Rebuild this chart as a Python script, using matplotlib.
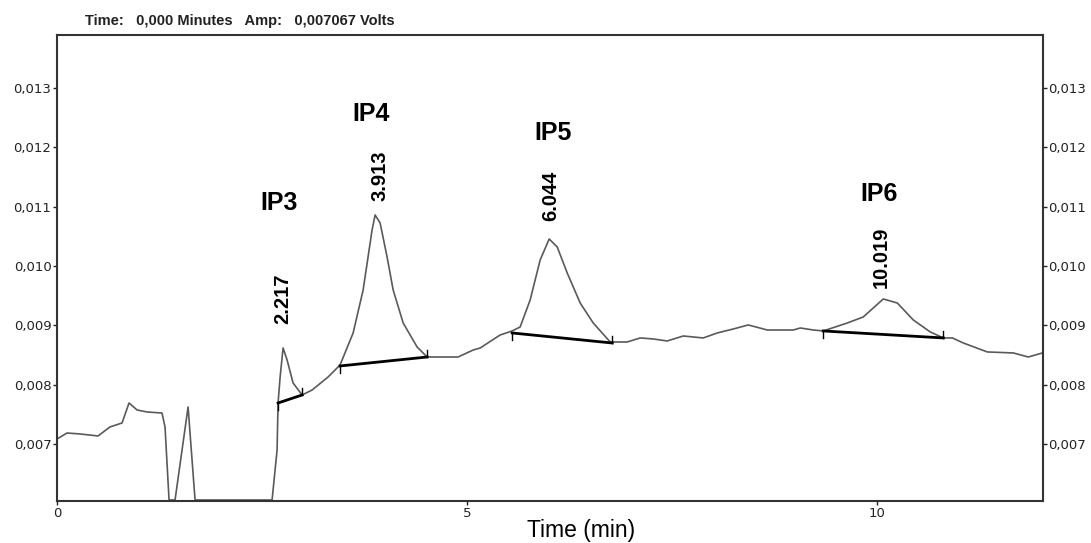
"""Chromatogram trace with integrated peaks IP3-IP6 (baseline segments + retention times)."""
import matplotlib
matplotlib.use("Agg")
import matplotlib.pyplot as plt
from matplotlib.ticker import FuncFormatter

# detector trace, time in min, amplitude in volts
time_min = [
    0.000, 0.122, 0.280, 0.500, 0.646, 0.793, 0.878, 0.976, 1.098, 1.280,
    1.317, 1.366, 1.439, 1.598, 1.683, 2.622, 2.683, 2.695, 2.720, 2.756,
    2.805, 2.878, 2.988, 3.110, 3.305, 3.451, 3.610, 3.732, 3.841, 3.878,
    3.939, 4.024, 4.098, 4.220, 4.390, 4.512, 4.890, 5.073, 5.159, 5.402,
    5.549, 5.646, 5.768, 5.890, 6.000, 6.098, 6.220, 6.378, 6.537, 6.744,
    6.951, 7.110, 7.268, 7.439, 7.634, 7.878, 8.049, 8.244, 8.427, 8.659,
    8.976, 9.061, 9.220, 9.341, 9.634, 9.829, 10.073, 10.244, 10.439, 10.646,
    10.805, 10.915, 11.049, 11.341, 11.659, 11.841, 12.012,
]
amp_v = [
    0.007084, 0.007185, 0.007169, 0.007135, 0.007287, 0.007354, 0.007691, 0.007573, 0.007539, 0.007522,
    0.007287, 0.006056, 0.006056, 0.007624, 0.006056, 0.006056, 0.006900, 0.007691, 0.008129, 0.008618,
    0.008416, 0.008028, 0.007826, 0.007910, 0.008129, 0.008332, 0.008871, 0.009596, 0.010607, 0.010860,
    0.010725, 0.010152, 0.009596, 0.009039, 0.008635, 0.008466, 0.008466, 0.008584, 0.008618, 0.008837,
    0.008905, 0.008972, 0.009427, 0.010101, 0.010455, 0.010320, 0.009882, 0.009376, 0.009039, 0.008719,
    0.008719, 0.008787, 0.008770, 0.008736, 0.008820, 0.008787, 0.008871, 0.008938, 0.009006, 0.008921,
    0.008921, 0.008955, 0.008921, 0.008905, 0.009039, 0.009141, 0.009444, 0.009376, 0.009090, 0.008888,
    0.008787, 0.008787, 0.008702, 0.008551, 0.008534, 0.008466, 0.008534,
]

# integrated peaks
peak_names = ["IP3", "IP4", "IP5", "IP6"]
peak_rt_labels = ["2.217", "3.913", "6.044", "10.019"]
peak_apex_t = [2.756, 3.878, 6.000, 10.073]
peak_apex_v = [0.008618, 0.010860, 0.010455, 0.009444]
base_t0 = [2.695, 3.451, 5.549, 9.341]
base_v0 = [0.007691, 0.008315, 0.008871, 0.008905]
base_t1 = [2.988, 4.512, 6.768, 10.805]
base_v1 = [0.007826, 0.008466, 0.008702, 0.008787]

header = "Time:   0,000 Minutes   Amp:   0,007067 Volts"


def main():
    fig = plt.figure(figsize=(10.91, 5.43), dpi=100)
    ax = fig.add_axes([57 / 1091, 1 - 501 / 543, 986 / 1091, 466 / 543])

    ax.plot(time_min, amp_v, color="#5a5a5a", lw=1.2, zorder=2)

    tick_h = 0.00012
    for t0, v0, t1, v1 in zip(base_t0, base_v0, base_t1, base_v1):
        ax.plot([t0, t1], [v0, v1], color="black", lw=2.0, zorder=3)
        ax.plot([t0, t0], [v0, v0 - tick_h], color="black", lw=1.0, zorder=3)
        ax.plot([t1, t1], [v1, v1 + tick_h], color="black", lw=1.0, zorder=3)

    # labels placed relative to each apex (offsets in pixels)
    name_off = [(-4, 145), (-4, 101), (4, 106), (-4, 105)]
    rt_off = [(0, 49), (5, 39), (2, 43), (-2, 42)]
    for i, name in enumerate(peak_names):
        xy = (peak_apex_t[i], peak_apex_v[i])
        ax.annotate(name, xy, xytext=name_off[i], textcoords="offset pixels",
                    ha="center", va="center", fontsize=18, fontweight="bold",
                    family="Liberation Sans")
        ax.annotate(peak_rt_labels[i], xy, xytext=rt_off[i], textcoords="offset pixels",
                    ha="center", va="center", rotation=90, fontsize=14.5,
                    fontweight="bold", family="Liberation Sans")

    ax.set_xlim(0, 12.02)
    ax.set_ylim(0.006039, 0.013893)
    ax.set_xticks([0, 5, 10])
    ax.set_yticks([0.007, 0.008, 0.009, 0.010, 0.011, 0.012, 0.013])
    ax.yaxis.set_major_formatter(FuncFormatter(lambda v, p: f"{v:.3f}".replace(".", ",")))
    ax.tick_params(axis="y", which="both", direction="out", length=3, width=1,
                   labelsize=9.5, right=True, labelright=True, pad=1, colors="#222222")
    ax.tick_params(axis="x", direction="out", length=3, width=1, labelsize=9.5,
                   pad=1, colors="#222222")
    for s in ax.spines.values():
        s.set_color("#333333")
        s.set_linewidth(1.5)

    ax.set_xlabel("Time (min)", fontsize=16.5, family="Liberation Sans")
    ax.xaxis.label.set_va("center")
    ax.xaxis.set_label_coords((581 - 57) / 986, -30 / 466)

    fig.text(85 / 1091, 1 - 21 / 543, header, fontsize=10.5, fontweight="bold",
             va="center", ha="left", family="Liberation Sans", color="#222222")

    fig.savefig("out.png", dpi=100)
    plt.close(fig)


if __name__ == "__main__":
    main()
